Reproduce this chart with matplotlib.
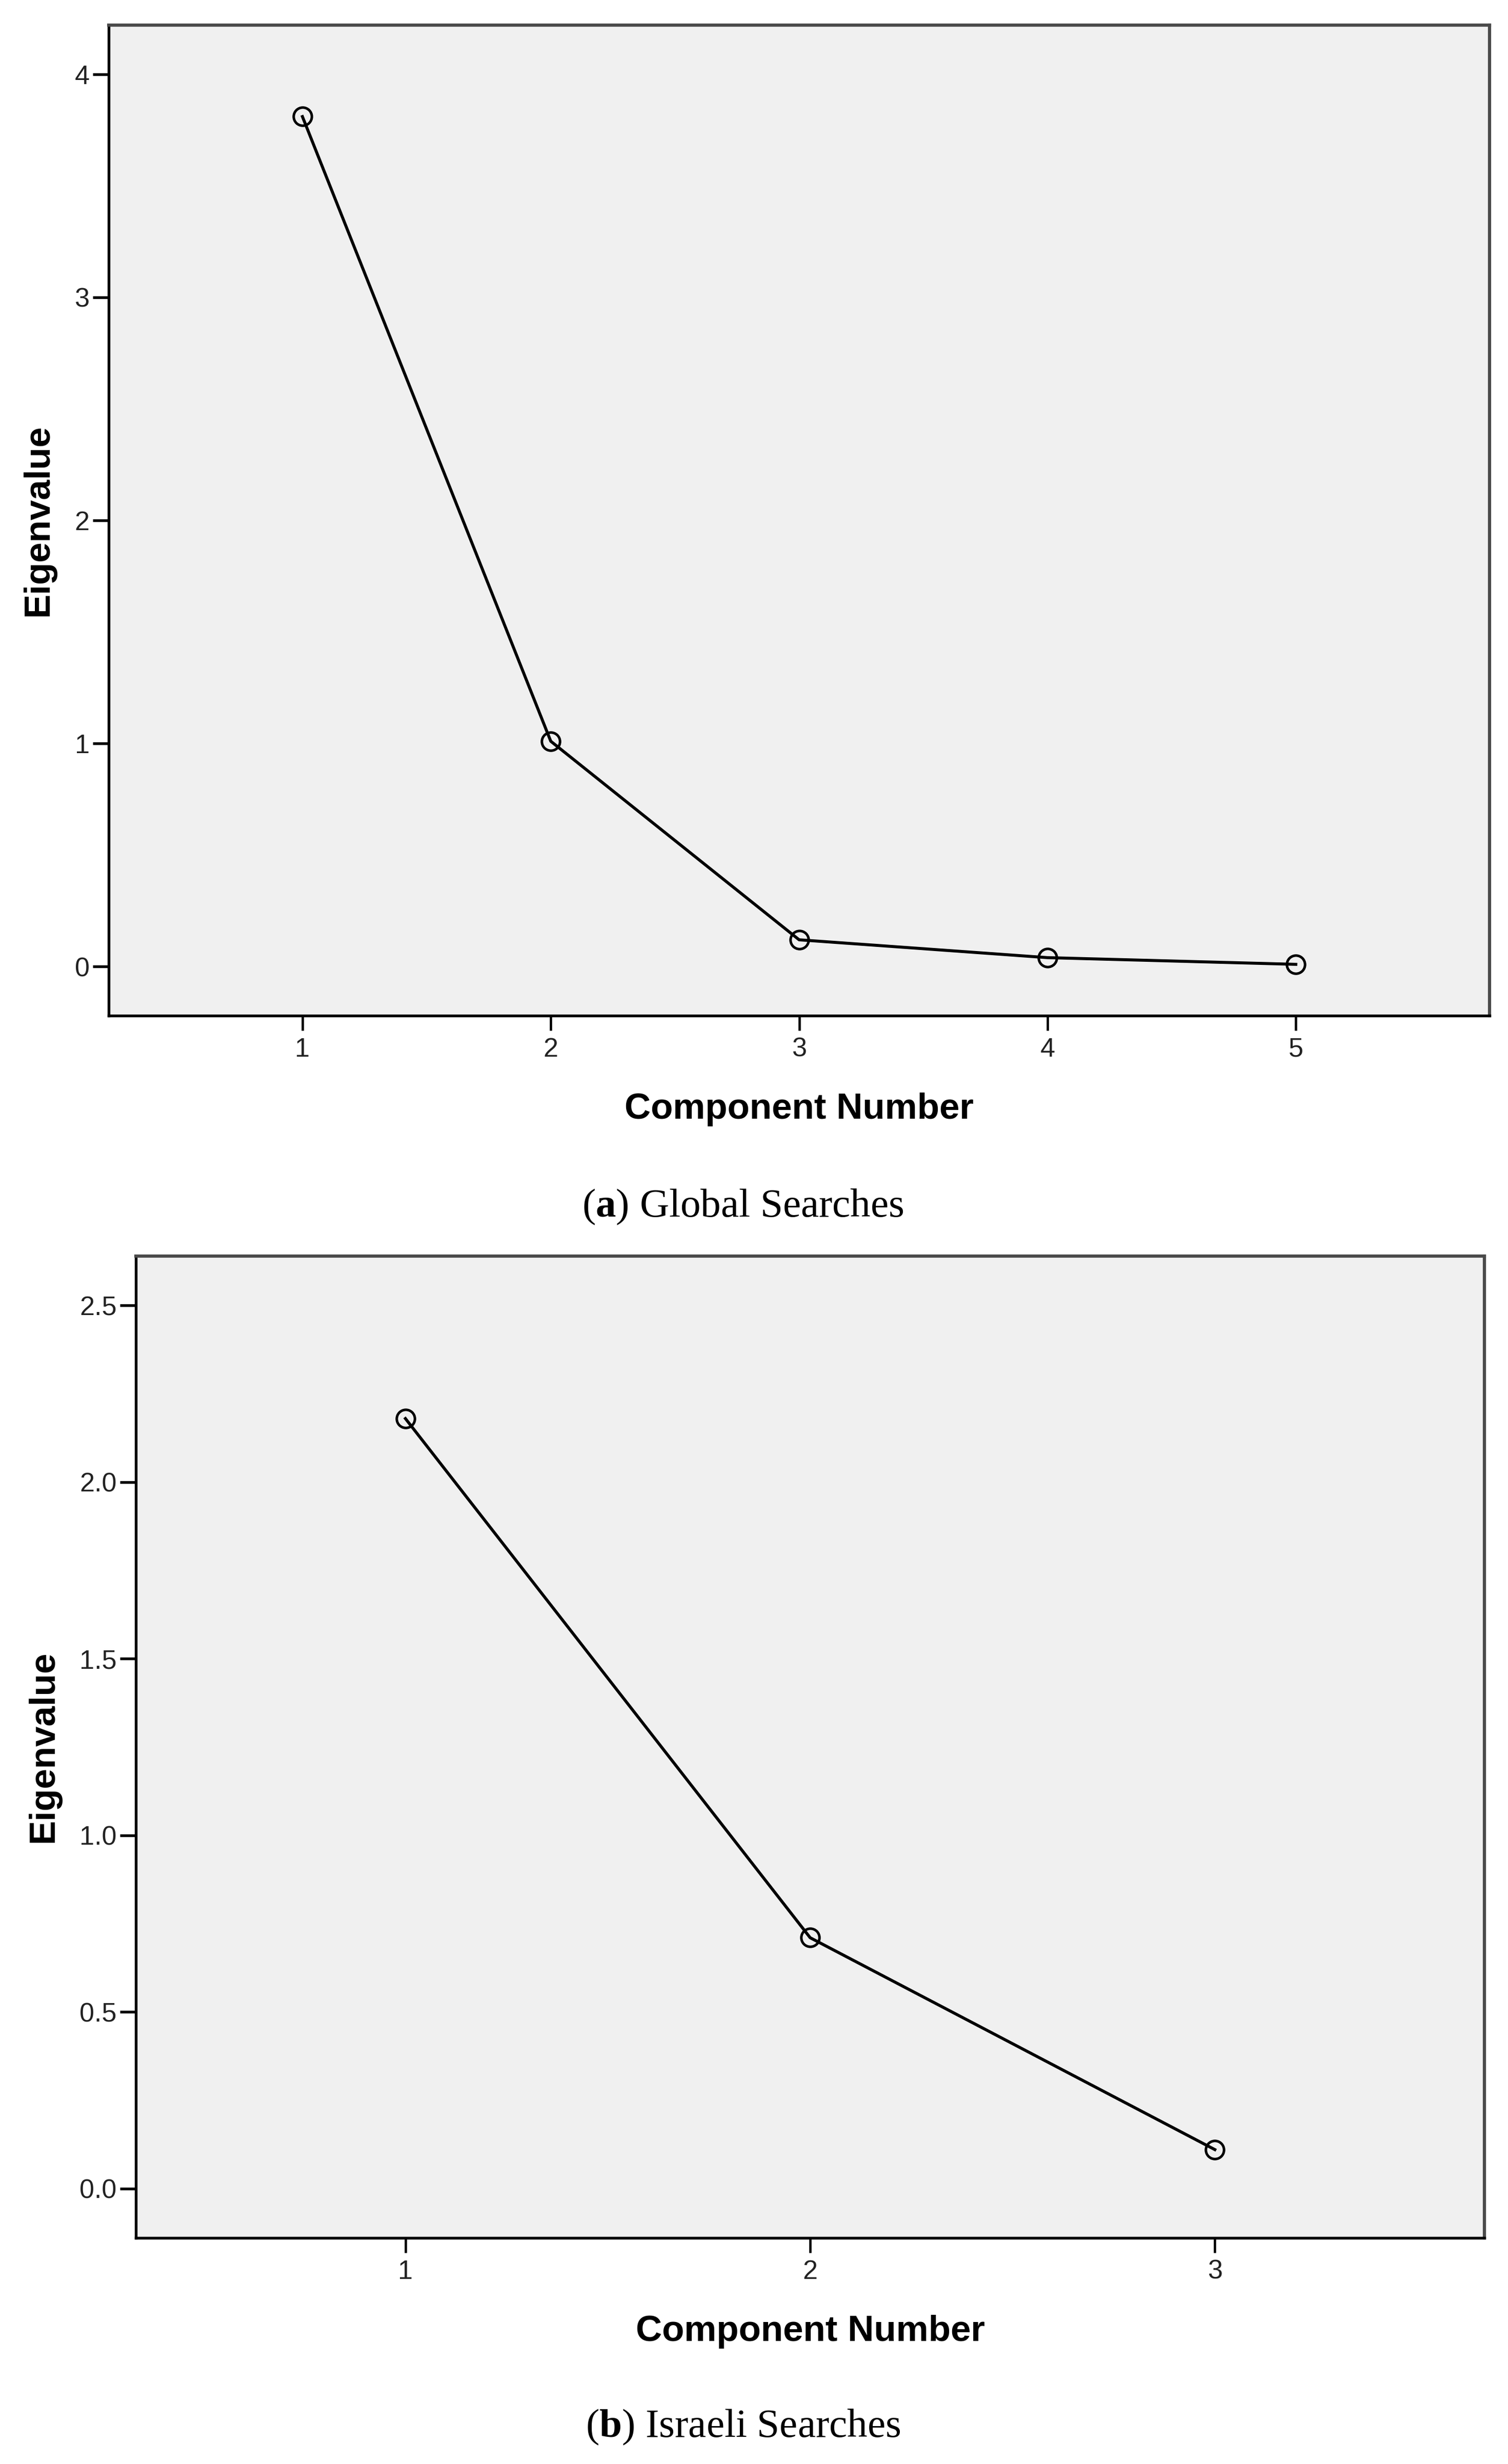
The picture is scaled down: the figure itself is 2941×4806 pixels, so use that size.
import matplotlib
matplotlib.use("Agg")
import matplotlib.pyplot as plt
from matplotlib.ticker import FormatStrFormatter

# scree plot values
global_components = [1, 2, 3, 4, 5]
global_eigen = [3.81, 1.01, 0.12, 0.04, 0.01]
global_yticks = [0, 1, 2, 3, 4]

israeli_components = [1, 2, 3]
israeli_eigen = [2.18, 0.71, 0.11]
israeli_yticks = [0.0, 0.5, 1.0, 1.5, 2.0, 2.5]

plt.rcParams["font.family"] = ["Liberation Sans", "DejaVu Sans"]
plt.rcParams["mathtext.fontset"] = "custom"
plt.rcParams["mathtext.rm"] = "Liberation Serif"
plt.rcParams["mathtext.bf"] = "Liberation Serif:bold"

W, H = 2941, 4806
DPI = 300
fig = plt.figure(figsize=(W / DPI, H / DPI), dpi=DPI, facecolor="white")


def px_axes(left, top, right, bottom):
    return fig.add_axes([left / W, 1 - bottom / H, (right - left) / W, (bottom - top) / H])


def style(ax):
    ax.set_facecolor("#f0f0f0")
    for side in ("left", "bottom"):
        ax.spines[side].set_color("black")
        ax.spines[side].set_linewidth(1.3)
    for side in ("top", "right"):
        ax.spines[side].set_color("#4a4a4a")
        ax.spines[side].set_linewidth(1.5)
    ax.tick_params(axis="y", direction="out", length=7.5, width=1.3, pad=1.5,
                   labelsize=12.5, colors="black", labelcolor="#222222")
    ax.tick_params(axis="x", direction="out", length=7, width=1.1, pad=3,
                   labelsize=12.5, colors="black", labelcolor="#222222")
    ax.tick_params(top=False, right=False)


def scree(ax, xs, ys):
    ax.plot(xs, ys, color="black", lw=1.4, marker="o", ms=8.5,
            mfc="none", mec="black", mew=1.2, zorder=3)


# (a) Global Searches
ax1 = px_axes(212, 49, 2905, 1981)
style(ax1)
scree(ax1, global_components, global_eigen)
ax1.set_xlim(0.22, 5.78)
ax1.set_ylim(-0.22, 4.22)
ax1.set_xticks(global_components)
ax1.set_yticks(global_yticks)

fig.text(1558 / W, 1 - 2182 / H, "Component Number", ha="center", va="baseline",
         fontsize=17, fontweight="bold")
fig.text(93 / W, 1 - 1015 / H, "Eigenvalue", rotation=90, rotation_mode="anchor",
         ha="center", va="baseline", fontsize=17, fontweight="bold")
fig.text(1449 / W, 1 - 2373 / H, r"($\mathbf{a}$) Global Searches", ha="center",
         va="baseline", fontsize=19, family="Liberation Serif")

# (b) Israeli Searches
ax2 = px_axes(265, 2450, 2895, 4365)
style(ax2)
scree(ax2, israeli_components, israeli_eigen)
ax2.set_xlim(0.334, 3.666)
ax2.set_ylim(-0.14, 2.64)
ax2.set_xticks(israeli_components)
ax2.set_yticks(israeli_yticks)
ax2.yaxis.set_major_formatter(FormatStrFormatter("%.1f"))

fig.text(1580 / W, 1 - 4566 / H, "Component Number", ha="center", va="baseline",
         fontsize=17, fontweight="bold")
fig.text(103 / W, 1 - 3407 / H, "Eigenvalue", rotation=90, rotation_mode="anchor",
         ha="center", va="baseline", fontsize=17, fontweight="bold")
fig.text(1449 / W, 1 - 4753 / H, r"($\mathbf{b}$) Israeli Searches", ha="center",
         va="baseline", fontsize=19, family="Liberation Serif")

fig.savefig("out.png", dpi=DPI, facecolor="white")
